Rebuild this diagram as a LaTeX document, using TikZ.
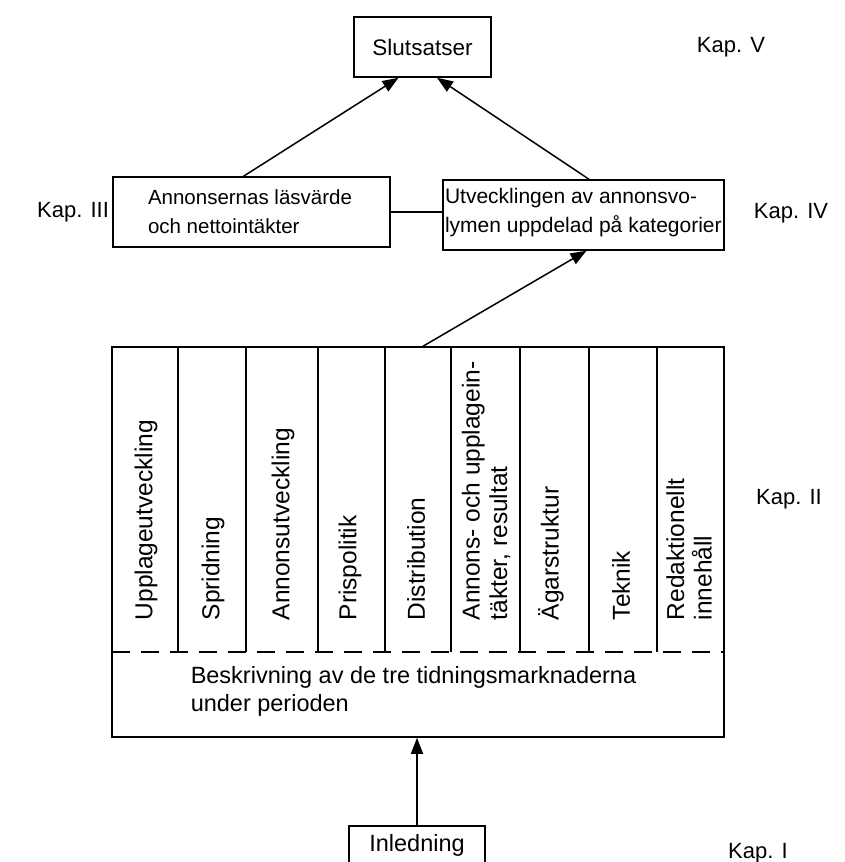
\documentclass[tikz,border=0pt]{standalone}
\usepackage{fontspec}
\setmainfont{Liberation Sans}
\usetikzlibrary{arrows.meta,calc}
\begin{document}
\begin{tikzpicture}[x=1pt,y=-1pt,
  line width=1.5pt,
  box/.style={draw, rectangle, inner sep=0pt},
  boxtext/.style={font=\fontsize{21}{29}\selectfont, align=left, inner sep=0pt},
  kap/.style={font=\fontsize{22}{26}\selectfont, inner sep=0pt},
  vert/.style={font=\fontsize{24.5}{27.5}\selectfont, rotate=90, anchor=west, align=left, inner sep=0pt},
  arr/.style={-{Triangle[length=16pt,width=12pt]}, line width=1.5pt},
  divider/.style={line width=1.2pt},
  dashline/.style={line width=1.4pt, dash pattern=on 18pt off 11pt}]
\useasboundingbox (0,0) rectangle (844,862);

% Top box
\node[box, minimum width=137pt, minimum height=60pt, font=\fontsize{22.5}{26}\selectfont] (slut) at (422.5,47) {Slutsatser};

% Middle boxes
\node[box, minimum width=277pt, minimum height=70pt] (lbox) at (251.5,212) {};
\node[boxtext, anchor=west, font=\fontsize{20.5}{29}\selectfont] (ltext) at ([xshift=35pt]lbox.west) {Annonsernas läsvärde\\och nettointäkter};
\node[box, minimum width=281pt, minimum height=70pt] (rbox) at (583.5,215) {};
\node[boxtext, anchor=west] (rtext) at ([xshift=2pt,yshift=2pt]rbox.west) {Utvecklingen av annonsvo-\\lymen uppdelad på kategorier};

% Big box
\node[box, minimum width=612pt, minimum height=390pt] (big) at (418,542) {};
\coordinate (dl) at (112,652);
\coordinate (dr) at (724,652);
\draw[dashline] (dl) -- (dr);
\foreach \x in {178,246,318,385,451,520,589,657}{
  \draw[divider] (\x,347) -- (\x,652);
}
\node[vert] (c1) at (146,621) {Upplageutveckling};
\node[vert] (c2) at (213,621) {Spridning};
\node[vert] (c3) at (283,621) {Annonsutveckling};
\node[vert] (c4) at (350,621) {Prispolitik};
\node[vert] (c5) at (416,621) {Distribution};
\node[vert] (c6) at (486,621) {Annons- och upplagein-\\täkter, resultat};
\node[vert] (c7) at (551,621) {Ägarstruktur};
\node[vert] (c8) at (621,621) {Teknik};
\node[vert] (c9) at (689,621) {Redaktionellt\\innehåll};
\node[font=\fontsize{23.5}{28}\selectfont, align=left, anchor=west, inner sep=0pt] (besk) at (190,691) {Beskrivning av de tre tidningsmarknaderna\\under perioden};

% Bottom box
\node[box, minimum width=136pt, minimum height=40pt] (inled) at (417,846) {};
\node[font=\fontsize{23.5}{27}\selectfont, inner sep=0pt] (inledtext) at (417,845) {Inledning};

% Connectors
\draw[arr] (inled.north) -- (inled.north |- big.south);
\draw[arr] ([xshift=5pt]big.north) -- ([xshift=3pt]rbox.south);
\draw[arr] ([xshift=-8pt]lbox.north) -- ([xshift=-24pt]slut.south);
\draw[arr] ([xshift=5.5pt]rbox.north) -- ([xshift=14.5pt]slut.south);
\draw (lbox.east) -- (lbox.east -| rbox.west);

% Chapter labels
\node[kap] (k5) at (731,47) {Kap. V};
\node[kap] (k3) at (73,212) {Kap. III};
\node[kap] (k4) at (791,213) {Kap. IV};
\node[kap] (k2) at (789,499) {Kap. II};
\node[kap] (k1) at (758,853) {Kap. I};
\end{tikzpicture}
\end{document}
